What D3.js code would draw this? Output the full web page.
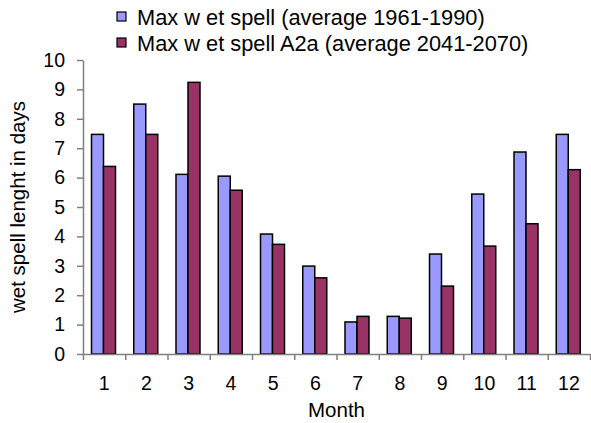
<!DOCTYPE html>
<html>
<head>
<meta charset="utf-8">
<script src="https://cdn.jsdelivr.net/npm/d3@7"></script>
<style>
  body { margin: 0; background: #fff; }
  text { font-family: "Liberation Sans", Arial, sans-serif; fill: #000; }
</style>
</head>
<body>
<div id="chart"></div>
<script>
// data
var months = ["1", "2", "3", "4", "5", "6", "7", "8", "9", "10", "11", "12"];
var seriesNames = ["Max w et spell (average 1961-1990)", "Max w et spell A2a (average 2041-2070)"];
var baseline = [7.47, 8.5, 6.11, 6.05, 4.08, 2.99, 1.09, 1.28, 3.4, 5.44, 6.87, 7.47];
var scenario = [6.38, 7.47, 9.24, 5.57, 3.73, 2.59, 1.28, 1.22, 2.31, 3.67, 4.43, 6.27];
var yTicks = [0, 1, 2, 3, 4, 5, 6, 7, 8, 9, 10];
var colors = ["#9999ff", "#993366"];

function base(){
    var w = 591, h = 423;
    var left = 83, right = 590, top = 60, bottom = 354;

    var svg = d3.select("#chart").append("svg")
        .attr("width", w)
        .attr("height", h);

    var x = d3.scaleBand().domain(months).range([left, right]).padding(0);
    var xs = d3.scaleBand().domain([0, 1]).range([8.5, 32.5]);
    var y = d3.scaleLinear().domain([0, 10]).range([bottom, top]);

    var rows = months.map(function(m, i) {
        return {month: m, vals: [baseline[i], scenario[i]]};
    });

    // bars
    var groups = svg.selectAll("g.month")
        .data(rows)
        .enter()
        .append("g")
        .attr("class", "month")
        .attr("transform", function(d) { return "translate(" + x(d.month) + ",0)"; });

    groups.selectAll("rect")
        .data(function(d) { return d.vals; })
        .enter()
        .append("rect")
        .attr("x", function(d, i) { return xs(i); })
        .attr("y", function(d) { return y(d); })
        .attr("width", xs.bandwidth())
        .attr("height", function(d) { return y(0) - y(d); })
        .attr("fill", function(d, i) { return colors[i]; })
        .attr("stroke", "#000")
        .attr("stroke-width", 1.5);

    // y axis
    var yAxis = svg.append("g")
        .attr("transform", "translate(" + left + ",0)")
        .call(d3.axisLeft(y).tickValues(yTicks).tickSize(6).tickSizeOuter(0).tickPadding(12));
    yAxis.selectAll("path, line").attr("stroke", "#808080").attr("stroke-width", 1.5);
    yAxis.selectAll("text").attr("font-size", 19.5).attr("font-family", "Liberation Sans, Arial, sans-serif");

    // x axis: tick marks on category edges, labels in the middle
    var edges = d3.scaleLinear().domain([0, 12]).range([left, right]);
    var xEdge = svg.append("g")
        .attr("transform", "translate(0," + bottom + ")")
        .call(d3.axisBottom(edges).ticks(12).tickSize(6).tickSizeOuter(0).tickFormat(""));
    xEdge.selectAll("path, line").attr("stroke", "#808080").attr("stroke-width", 1.5);

    var xLab = svg.append("g")
        .attr("transform", "translate(0," + bottom + ")")
        .call(d3.axisBottom(x).tickSize(0).tickPadding(22));
    xLab.select(".domain").remove();
    xLab.selectAll("text").attr("font-size", 19.5).attr("font-family", "Liberation Sans, Arial, sans-serif");

    // axis titles
    svg.append("text")
        .attr("x", (left + right) / 2)
        .attr("y", 417)
        .attr("text-anchor", "middle")
        .attr("font-size", 20.5)
        .text("Month");

    svg.append("text")
        .attr("transform", "translate(25," + ((top + bottom) / 2) + ") rotate(-90)")
        .attr("text-anchor", "middle")
        .attr("font-size", 20.5)
        .text("wet spell lenght in days");

    // legend
    var legend = svg.selectAll("g.legend")
        .data(seriesNames)
        .enter()
        .append("g")
        .attr("class", "legend")
        .attr("transform", function(d, i) { return "translate(117," + (12 + i * 26) + ")"; });

    legend.append("rect")
        .attr("width", 9)
        .attr("height", 9)
        .attr("fill", function(d, i) { return colors[i]; })
        .attr("stroke", "#000")
        .attr("stroke-width", 1.2);

    legend.append("text")
        .attr("x", 20)
        .attr("y", 12.5)
        .attr("font-size", 21.8)
        .text(function(d) { return d; });
}

window.onload = base;
</script>
</body>
</html>
